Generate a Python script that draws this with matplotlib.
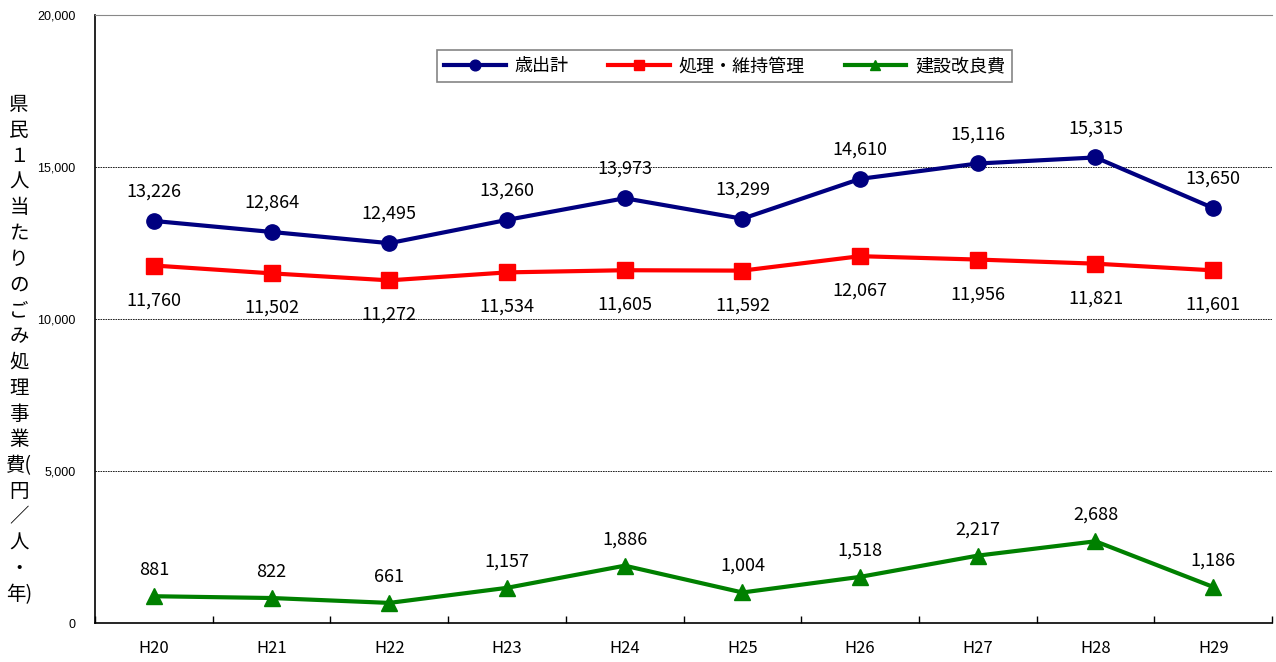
import matplotlib.pyplot as plt
import numpy as np
import matplotlib

matplotlib.rcParams['font.family'] = ['Noto Sans CJK JP', 'DejaVu Sans']

years = ['H20', 'H21', 'H22', 'H23', 'H24', 'H25', 'H26', 'H27', 'H28', 'H29']
total = [13226, 12864, 12495, 13260, 13973, 13299, 14610, 15116, 15315, 13650]
maintenance = [11760, 11502, 11272, 11534, 11605, 11592, 12067, 11956, 11821, 11601]
construction = [881, 822, 661, 1157, 1886, 1004, 1518, 2217, 2688, 1186]

fig = plt.figure(figsize=(12.76, 6.62), dpi=100)
ax = fig.add_axes([0.0745, 0.0589, 0.9224, 0.9184])

x = np.arange(len(years))
ax.plot(x, total, color='#000080', lw=3, marker='o', ms=11, label='歳出計', zorder=3)
ax.plot(x, maintenance, color='#ff0000', lw=3, marker='s', ms=11, label='処理・維持管理', zorder=3)
ax.plot(x, construction, color='#008000', lw=3, marker='^', ms=11, label='建設改良費', zorder=3)

# data labels
for i in x:
    ax.annotate(f'{total[i]:,}', (i, total[i]), xytext=(0, 21), textcoords='offset points',
                ha='center', va='center', fontsize=13)
    ax.annotate(f'{maintenance[i]:,}', (i, maintenance[i]), xytext=(0, -25), textcoords='offset points',
                ha='center', va='center', fontsize=13)
    ax.annotate(f'{construction[i]:,}', (i, construction[i]), xytext=(0, 19), textcoords='offset points',
                ha='center', va='center', fontsize=13)

ax.set_xlim(-0.5, len(years) - 0.5)
ax.set_ylim(0, 20000)
ax.set_xticks(x)
ax.set_xticklabels(years, fontsize=12)
ax.set_xticks(np.arange(-0.5, len(years), 1), minor=True)
ax.tick_params(axis='x', which='major', length=0, pad=12)
ax.tick_params(axis='x', which='minor', direction='in', length=5, width=1)
ax.set_yticks([0, 5000, 10000, 15000, 20000])
ax.set_yticklabels(['0', '5,000', '10,000', '15,000', '20,000'], fontsize=9,
                   family=['Liberation Sans', 'DejaVu Sans'])
ax.tick_params(axis='y', length=0, pad=14)
ax.yaxis.grid(True, color='black', linestyle=(0, (2, 1)), lw=0.6)

ax.spines['left'].set_linewidth(1.2)
ax.spines['bottom'].set_linewidth(1.2)
ax.spines['top'].set_color('#888888')
ax.spines['right'].set_visible(False)

ylab = '県\n民\n１\n人\n当\nた\nり\nの\nご\nみ\n処\n理\n事\n業\n費(\n円\n／\n人\n・\n年)'
fig.text(0.015, 0.472, ylab, ha='center', va='center', fontsize=14, linespacing=1.3)

leg = ax.legend(loc='center', bbox_to_anchor=(0.535, 0.916), ncol=3, fontsize=13,
                frameon=True, fancybox=False, edgecolor='#666666', handlelength=3.4,
                markerscale=0.7, columnspacing=2.2, borderpad=0.4, handletextpad=0.5)
leg.get_frame().set_linewidth(1.2)

plt.savefig('out.png', dpi=100)
